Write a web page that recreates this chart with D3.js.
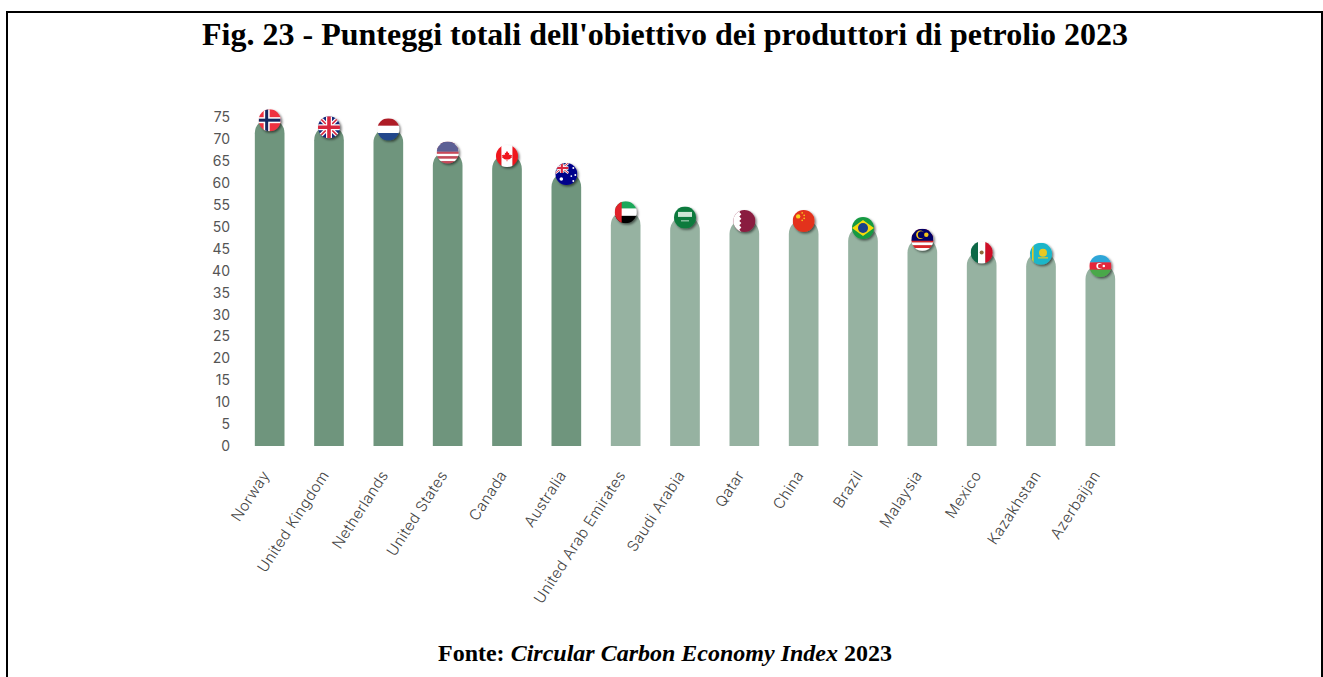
<!DOCTYPE html>
<html><head><meta charset="utf-8">
<script src="https://cdn.jsdelivr.net/npm/d3@7"></script>
<style>html,body{margin:0;padding:0;background:#fff}svg{display:block}</style>
</head><body><svg id="c" width="1323" height="677"></svg>
<script>
const categories=["Norway","United Kingdom","Netherlands","United States","Canada","Australia","United Arab Emirates","Saudi Arabia","Qatar","China","Brazil","Malaysia","Mexico","Kazakhstan","Azerbaijan"];
const values=[74.8,73.2,72.7,67.4,66.6,62.5,53.8,52.6,51.8,51.8,50.2,47.5,44.6,44.3,41.5];
const codes=["no","gb","nl","us","ca","au","ae","sa","qa","cn","br","my","mx","kz","az"];
const yTicks=d3.range(0,80,5);
const topGroupCount=6;
const title="Fig. 23 - Punteggi totali dell'obiettivo dei produttori di petrolio 2023";

const svg=d3.select("#c");
const x=d3.scaleBand().domain(categories).range([240,1130]).paddingInner(0.5).paddingOuter(0.25);
const y=d3.scaleLinear().domain([0,75]).range([446,117.5]);
const bw=x.bandwidth();

// frame: top, left, right only
svg.append("path").attr("d","M7,677V12H1322V677").attr("fill","none").attr("stroke","#000").attr("stroke-width",2);

svg.append("text").attr("x",665).attr("y",45).attr("text-anchor","middle")
 .attr("font-family","Liberation Serif").attr("font-weight","bold").attr("font-size",32).text(title);
const foot=svg.append("text").attr("x",665).attr("y",661).attr("text-anchor","middle")
 .attr("font-family","Liberation Serif").attr("font-weight","bold").attr("font-size",24);
foot.append("tspan").text("Fonte: ");
foot.append("tspan").attr("font-style","italic").text("Circular Carbon Economy Index");
foot.append("tspan").text(" 2023");

const defs=svg.append("defs");
defs.append("clipPath").attr("id","flagClip").append("circle").attr("r",11);
const f=defs.append("filter").attr("id","sh").attr("x","-40%").attr("y","-40%").attr("width","180%").attr("height","180%");
f.append("feDropShadow").attr("dx",1.5).attr("dy",1.5).attr("stdDeviation",1.2).attr("flood-color","#000").attr("flood-opacity",0.55);

// axes
const yAxis=svg.append("g").attr("transform","translate(230,0)")
 .call(d3.axisLeft(y).tickValues(yTicks).tickSize(0).tickPadding(0));
yAxis.select(".domain").remove();
yAxis.selectAll("text").attr("font-family","Inter").attr("font-size",14).attr("fill","#555");

const xAxis=svg.append("g").attr("transform","translate(0,446)")
 .call(d3.axisBottom(x).tickSize(0).tickPadding(0));
xAxis.select(".domain").remove();
xAxis.selectAll("text").attr("font-family","Inter").attr("font-size",15).attr("letter-spacing",0.4).attr("font-weight",300).attr("fill","#444")
 .attr("text-anchor","end").attr("dy",0)
 .attr("transform","translate(0.5,29) rotate(-57)");

// bars
svg.append("g").selectAll("path").data(categories).join("path")
 .attr("fill",(d,i)=>i<topGroupCount?"#6f957d":"#96b2a1")
 .attr("d",(d,i)=>{const l=x(d),t=y(values[i]),b=y(0),r=bw/2;
   const p=d3.path();p.moveTo(l,b);p.lineTo(l,t+r);p.arc(l+r,t+r,r,Math.PI,0);p.lineTo(l+bw,b);p.closePath();return p;});

// flags
function rect(g,x0,y0,w,h,c){g.append("rect").attr("x",x0).attr("y",y0).attr("width",w).attr("height",h).attr("fill",c);}
function hstripes(g,cols){const h=22/cols.length;cols.forEach((c,i)=>rect(g,-11,-11+i*h,22,h+.2,c));}
function vstripes(g,cols){const w=22/cols.length;cols.forEach((c,i)=>rect(g,-11+i*w,-11,w+.2,22,c));}
function dot(g,cx,cy,r,c){g.append("circle").attr("cx",cx).attr("cy",cy).attr("r",r).attr("fill",c);}
function union(g,x0,y0,w,h){
  rect(g,x0,y0,w,h,"#12287a");
  const l=(a,b,c,d,s,k)=>g.append("line").attr("x1",a).attr("y1",b).attr("x2",c).attr("y2",d).attr("stroke",k).attr("stroke-width",s);
  const sc=w/22;
  l(x0,y0,x0+w,y0+h,4*sc,"#fff");l(x0+w,y0,x0,y0+h,4*sc,"#fff");
  l(x0,y0,x0+w,y0+h,1.6*sc,"#d8263c");l(x0+w,y0,x0,y0+h,1.6*sc,"#d8263c");
  l(x0+w/2,y0,x0+w/2,y0+h,6*sc,"#fff");l(x0,y0+h/2,x0+w,y0+h/2,6*sc,"#fff");
  l(x0+w/2,y0,x0+w/2,y0+h,3.6*sc,"#d8263c");l(x0,y0+h/2,x0+w,y0+h/2,3.6*sc,"#d8263c");
}
const flags={
 no:g=>{rect(g,-11,-11,22,22,"#ef3340");rect(g,-6,-11,6,22,"#fff");rect(g,-11,-3,22,6,"#fff");rect(g,-4.5,-11,3,22,"#12285f");rect(g,-11,-1.5,22,3,"#12285f");},
 gb:g=>union(g,-11,-11,22,22),
 nl:g=>hstripes(g,["#ae1c28","#fff","#21468b"]),
 us:g=>{hstripes(g,["#c8485a","#fff","#c8485a","#fff","#c8485a","#fff","#c8485a","#fff","#c8485a"]);rect(g,-11,-11,22,10,"#5b5f94");},
 ca:g=>{vstripes(g,["#f0141e","#fff","#fff","#f0141e"]);
   g.append("path").attr("transform","scale(.75)").attr("d","M0,-7L1.6,-4L3,-4.6L2.4,-1L4,-2.6L5,-1L7,-1.4L6,1L6.6,2L2.6,4.4L.5,4.2V7H-.5V4.2L-2.6,4.4L-6.6,2L-6,1L-7,-1.4L-5,-1L-4,-2.6L-2.4,-1L-3,-4.6L-1.6,-4Z").attr("fill","#f0141e");},
 au:g=>{rect(g,-11,-11,22,22,"#00008b");union(g,-11,-11,13,10);dot(g,-5,5,1.8,"#fff");dot(g,7,-6,1,"#fff");dot(g,9,1,1,"#fff");dot(g,5,2,.9,"#fff");dot(g,7,7,1,"#fff");},
 ae:g=>{hstripes(g,["#1ea85a","#fff","#000"]);rect(g,-11,-11,7,22,"#e0202a");},
 sa:g=>{rect(g,-11,-11,22,22,"#0b7a3e");rect(g,-7,-5.5,14,5,"#cfe6d6");rect(g,-4,3,8,.9,"#cfe6d6");},
 qa:g=>{rect(g,-11,-11,22,22,"#8a1c3f");
   g.append("path").attr("d","M-11,-11H-3L-5,-8.8L-3,-6.6L-5,-4.4L-3,-2.2L-5,0L-3,2.2L-5,4.4L-3,6.6L-5,8.8L-3,11H-11Z").attr("fill","#fff");},
 cn:g=>{rect(g,-11,-11,22,22,"#e3301b");dot(g,-5.5,-4.5,2.2,"#f8d21c");[[-1.5,-8],[.5,-5.5],[.5,-2.5],[-1.5,-.5]].forEach(p=>dot(g,p[0],p[1],.8,"#f8d21c"));},
 br:g=>{rect(g,-11,-11,22,22,"#139a43");g.append("path").attr("d","M-11,0L0,-8L11,0L0,8Z").attr("fill","#f5d90f");dot(g,0,0,5,"#1b3f8b");},
 my:g=>{hstripes(g,["#d8262c","#fff","#d8262c","#fff","#d8262c","#fff","#d8262c","#fff"]);rect(g,-11,-11,22,12,"#010066");dot(g,-2,-5,4.2,"#f5c518");dot(g,-1,-5,3.5,"#010066");dot(g,4,-5,2.2,"#f5c518");},
 mx:g=>{vstripes(g,["#0a6847","#fff","#ce1126"]);dot(g,0,0,2,"#8a6b3a");},
 kz:g=>{rect(g,-11,-11,22,22,"#1cb6c9");rect(g,-9,-11,1.6,22,"#e8c820");dot(g,2,-1,4,"#e8c820");rect(g,-3,3.5,10,1.2,"#e8c820");},
 az:g=>{hstripes(g,["#2fa6d8","#e5283a","#4aa84a"]);dot(g,-1,0,3,"#fff");dot(g,0,0,2.4,"#e5283a");dot(g,3.5,0,1.2,"#fff");}
};
const fg=svg.append("g").selectAll("g").data(categories).join("g")
 .attr("transform",(d,i)=>`translate(${x(d)+bw/2},${y(values[i])+1.8})`)
 .attr("filter","url(#sh)");
fg.each(function(d,i){const g=d3.select(this).append("g").attr("clip-path","url(#flagClip)");flags[codes[i]](g);});
</script></body></html>
